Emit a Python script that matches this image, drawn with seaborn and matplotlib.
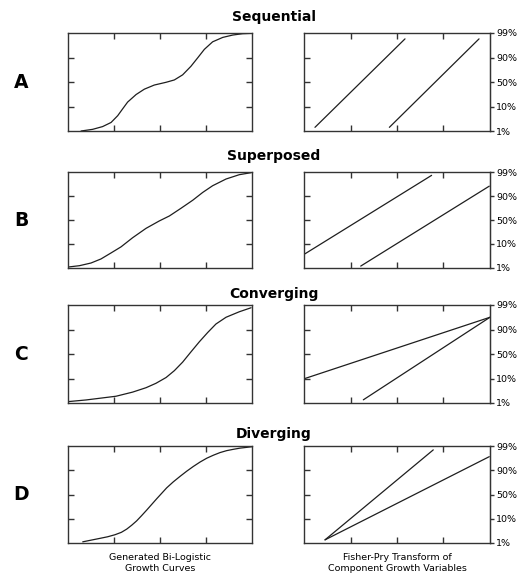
import matplotlib
matplotlib.use("Agg")
import matplotlib.pyplot as plt
import pandas as pd
import seaborn as sns

# ---------------- data ----------------
titles = ["Sequential", "Superposed", "Converging", "Diverging"]
row_letters = ["A", "B", "C", "D"]
pct_labels = ["1%", "10%", "50%", "90%", "99%"]
x_label_left = "Generated Bi-Logistic\nGrowth Curves"
x_label_right = "Fisher-Pry Transform of\nComponent Growth Variables"

# left column: generated bi-logistic growth curves (fraction of axis)
a_left_x = [0.071, 0.134, 0.188, 0.234, 0.27, 0.297, 0.324, 0.37, 0.415, 0.469,
            0.533, 0.578, 0.623, 0.668, 0.705, 0.741, 0.786, 0.841, 0.895,
            0.949, 1.0]
a_left_y = [0.0, 0.017, 0.045, 0.087, 0.156, 0.226, 0.295, 0.372, 0.427, 0.469,
            0.497, 0.521, 0.573, 0.66, 0.747, 0.833, 0.91, 0.955, 0.979,
            0.993, 0.997]

b_left_x = [0.0, 0.062, 0.125, 0.179, 0.234, 0.288, 0.351, 0.424, 0.496, 0.551,
            0.614, 0.678, 0.732, 0.786, 0.859, 0.931, 0.995]
b_left_y = [0.01, 0.024, 0.052, 0.094, 0.157, 0.22, 0.315, 0.413, 0.49, 0.542,
            0.622, 0.706, 0.787, 0.857, 0.927, 0.972, 0.993]

c_left_x = [0.0, 0.098, 0.188, 0.261, 0.351, 0.424, 0.478, 0.533, 0.578, 0.623,
            0.668, 0.714, 0.759, 0.804, 0.859, 0.931, 0.995]
c_left_y = [0.014, 0.031, 0.052, 0.069, 0.111, 0.156, 0.201, 0.26, 0.33, 0.417,
            0.521, 0.625, 0.719, 0.806, 0.875, 0.931, 0.972]

d_left_x = [0.08, 0.174, 0.215, 0.255, 0.29, 0.319, 0.346, 0.373, 0.40, 0.428,
            0.455, 0.482, 0.509, 0.536, 0.572, 0.609, 0.645, 0.681, 0.718,
            0.754, 0.79, 0.826, 0.862, 0.899, 0.935, 0.971, 1.0]
d_left_y = [0.012, 0.048, 0.064, 0.085, 0.11, 0.143, 0.183, 0.228, 0.282, 0.34,
            0.398, 0.456, 0.512, 0.568, 0.63, 0.687, 0.74, 0.789, 0.835,
            0.874, 0.905, 0.932, 0.952, 0.966, 0.978, 0.986, 0.993]

# right column: Fisher-Pry transforms (y on 0..4 grid: 1%,10%,50%,90%,99%)
a_right_1_x = [0.059, 0.543]
a_right_1_y = [0.15, 3.76]
a_right_2_x = [0.459, 0.941]
a_right_2_y = [0.15, 3.76]

b_right_1_x = [0.005, 0.686]
b_right_1_y = [0.59, 3.86]
b_right_2_x = [0.305, 0.996]
b_right_2_y = [0.08, 3.41]

c_right_1_x = [0.005, 1.0]
c_right_1_y = [1.0, 3.5]
c_right_2_x = [0.319, 1.0]
c_right_2_y = [0.13, 3.5]

d_right_1_x = [0.113, 0.695]
d_right_1_y = [0.13, 3.84]
d_right_2_x = [0.113, 0.996]
d_right_2_y = [0.13, 3.56]

left_curves = [(a_left_x, a_left_y), (b_left_x, b_left_y),
               (c_left_x, c_left_y), (d_left_x, d_left_y)]
right_curves = [
    [(a_right_1_x, a_right_1_y), (a_right_2_x, a_right_2_y)],
    [(b_right_1_x, b_right_1_y), (b_right_2_x, b_right_2_y)],
    [(c_right_1_x, c_right_1_y), (c_right_2_x, c_right_2_y)],
    [(d_right_1_x, d_right_1_y), (d_right_2_x, d_right_2_y)],
]

# ---------------- layout ----------------
sns.set_style("white")
plt.rcParams["font.family"] = ["DejaVu Sans"]
plt.rcParams["text.color"] = "black"
plt.rcParams["xtick.color"] = "black"
plt.rcParams["ytick.color"] = "black"

W, H = 521, 579
fig = plt.figure(figsize=(W / 100, H / 100), dpi=100)

rows_px = [(33, 131), (172, 268), (305, 403), (446, 543)]
left_px = (68, 252)
right_px = (304, 490)
title_y_px = [17, 156, 294, 434]

line_col = "#1e1e1e"
frame_col = "#333333"


def make_ax(xpx, ypx):
    l = xpx[0] / W
    w = (xpx[1] - xpx[0]) / W
    b = 1 - ypx[1] / H
    h = (ypx[1] - ypx[0]) / H
    ax = fig.add_axes([l, b, w, h])
    for s in ax.spines.values():
        s.set_color(frame_col)
        s.set_linewidth(1.0)
    return ax


for i in range(4):
    ypx = rows_px[i]
    # left panel
    axl = make_ax(left_px, ypx)
    lx, ly = left_curves[i]
    df = pd.DataFrame({"x": lx, "y": ly})
    sns.lineplot(data=df, x="x", y="y", ax=axl, color=line_col, lw=0.9,
                 sort=False, estimator=None)
    axl.set_xlim(0, 1)
    axl.set_ylim(0, 1)
    axl.set_xticks([0.25, 0.5, 0.75])
    axl.set_yticks([0.25, 0.5, 0.75])
    axl.tick_params(direction="in", length=4, width=1, color=frame_col,
                    top=True, bottom=True, left=True, right=True,
                    labelbottom=False, labelleft=False)
    axl.set_xlabel("")
    axl.set_ylabel("")

    # right panel
    axr = make_ax(right_px, ypx)
    for k, (rx, ry) in enumerate(right_curves[i]):
        df = pd.DataFrame({"x": rx, "y": ry})
        sns.lineplot(data=df, x="x", y="y", ax=axr, color=line_col, lw=0.9,
                     sort=False, estimator=None)
    axr.set_xlim(0, 1)
    axr.set_ylim(0, 4)
    axr.set_xticks([0.25, 0.5, 0.75])
    axr.set_yticks([1, 2, 3])
    axr.tick_params(direction="in", length=4, width=1, color=frame_col,
                    top=True, bottom=True, left=True, right=False,
                    labelbottom=False, labelleft=False)
    axr.set_xlabel("")
    axr.set_ylabel("")
    sec = axr.secondary_yaxis("right")
    sec.set_yticks([0, 1, 2, 3, 4])
    sec.set_yticklabels(pct_labels)
    sec.tick_params(direction="out", length=3, width=1, color=frame_col,
                    pad=1.5, labelsize=6.8, labelcolor="black")
    sec.spines["right"].set_color(frame_col)

    # titles and row letters
    fig.text(274 / W, 1 - title_y_px[i] / H, titles[i], ha="center",
             va="center", fontsize=10, fontweight="bold", color="black")
    fig.text(21 / W, 1 - ((ypx[0] + ypx[1]) / 2) / H, row_letters[i],
             ha="center", va="center", fontsize=13.5, fontweight="bold",
             color="black")

fig.text(160 / W, 1 - 563 / H, x_label_left, ha="center", va="center",
         fontsize=6.8, linespacing=1.25, color="black")
fig.text(397 / W, 1 - 563 / H, x_label_right, ha="center", va="center",
         fontsize=6.8, linespacing=1.25, color="black")

fig.savefig("out.png", dpi=100)
